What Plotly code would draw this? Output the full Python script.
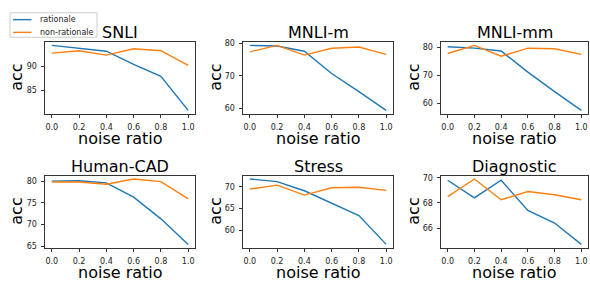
import plotly.graph_objects as go

noise = [0.0, 0.2, 0.4, 0.6, 0.8, 1.0]
x_ticks = [0.0, 0.2, 0.4, 0.6, 0.8, 1.0]
x_tick_labels = ["0.0", "0.2", "0.4", "0.6", "0.8", "1.0"]

titles = ["SNLI", "MNLI-m", "MNLI-mm", "Human-CAD", "Stress", "Diagnostic"]
series_names = ["rationale", "non-rationale"]

snli_rat = [94.3, 93.7, 93.1, 90.4, 87.9, 80.9]
snli_non = [92.7, 93.2, 92.3, 93.6, 93.2, 90.2]
mnlim_rat = [79.4, 79.2, 77.6, 70.7, 65.1, 59.3]
mnlim_non = [77.4, 79.4, 76.4, 78.5, 78.9, 76.6]
mnlimm_rat = [80.3, 79.8, 78.8, 71.2, 64.2, 57.5]
mnlimm_non = [77.9, 80.8, 76.9, 79.8, 79.6, 77.6]
hcad_rat = [80.0, 80.1, 79.6, 76.3, 71.3, 65.4]
hcad_non = [79.8, 79.8, 79.3, 80.5, 79.9, 75.9]
stress_rat = [71.8, 71.2, 69.1, 66.3, 63.4, 56.8]
stress_non = [69.5, 70.4, 68.1, 69.8, 69.9, 69.2]
diag_rat = [69.8, 68.4, 69.8, 67.4, 66.4, 64.7]
diag_non = [68.5, 69.9, 68.25, 68.9, 68.65, 68.25]

rationale = [snli_rat, mnlim_rat, mnlimm_rat, hcad_rat, stress_rat, diag_rat]
non_rationale = [snli_non, mnlim_non, mnlimm_non, hcad_non, stress_non, diag_non]

y_ticks = [[85, 90], [60, 70, 80], [60, 70, 80], [65, 70, 75, 80], [60, 65, 70], [66, 68, 70]]

W, H = 590, 281
col_px = [(45, 195), (243, 393), (441, 588)]
row_px = [(40, 113), (176.5, 250)]
ylab_x = [17, 216, 414]

BLUE = "#1f77b4"
ORANGE = "#ff7f0e"
FONT = "DejaVu Sans"


def px(x):
    return x / W


def py(y):
    return 1 - y / H


fig = go.Figure()
annotations = []
shapes = []

for i in range(6):
    r, c = divmod(i, 3)
    idx = "" if i == 0 else str(i + 1)
    xa, ya = "x" + idx, "y" + idx
    x0, x1 = col_px[c]
    top, bot = row_px[r]
    fig.add_trace(go.Scatter(x=noise, y=rationale[i], mode="lines", name=series_names[0],
                             line=dict(color=BLUE, width=1.4), xaxis=xa, yaxis=ya,
                             showlegend=False))
    fig.add_trace(go.Scatter(x=noise, y=non_rationale[i], mode="lines", name=series_names[1],
                             line=dict(color=ORANGE, width=1.4), xaxis=xa, yaxis=ya,
                             showlegend=False))
    allv = rationale[i] + non_rationale[i]
    lo, hi = min(allv), max(allv)
    pad = 0.05 * (hi - lo)
    common = dict(showline=True, linecolor="#333", linewidth=0.9, mirror=True,
                  ticks="outside", ticklen=3.5, tickwidth=0.9, tickcolor="#333",
                  showgrid=False, zeroline=False, ticklabelstandoff=2,
                  tickfont=dict(family=FONT, size=8, color="#222"))
    fig.layout["xaxis" + idx] = dict(domain=[px(x0), px(x1)], range=[-0.05, 1.05],
                                     tickvals=x_ticks, ticktext=x_tick_labels,
                                     anchor=ya, **common)
    fig.layout["yaxis" + idx] = dict(domain=[py(bot), py(top)], range=[lo - pad, hi + pad],
                                     tickvals=y_ticks[i], anchor=xa, **common)
    cx = px((x0 + x1) / 2)
    annotations.append(dict(text=titles[i], x=cx, y=py(top - 9.5), xref="paper", yref="paper",
                            xanchor="center", yanchor="middle", showarrow=False,
                            font=dict(family=FONT, size=16, color="black")))
    annotations.append(dict(text="noise ratio", x=cx, y=py(bot + 25), xref="paper", yref="paper",
                            xanchor="center", yanchor="middle", showarrow=False,
                            font=dict(family=FONT, size=16, color="black")))
    annotations.append(dict(text="acc", x=px(ylab_x[c]), y=py((top + bot) / 2), xref="paper", yref="paper",
                            xanchor="center", yanchor="middle", showarrow=False, textangle=-90,
                            font=dict(family=FONT, size=16, color="black")))

# compact legend box (matplotlib style)
shapes.append(dict(type="rect", xref="paper", yref="paper",
                   x0=px(10), x1=px(97), y0=py(35), y1=py(10),
                   line=dict(color="#cccccc", width=1), fillcolor="rgba(255,255,255,0.85)", layer="above"))
for k, (name, color) in enumerate(zip(series_names, [BLUE, ORANGE])):
    yy = 17 + 13 * k
    shapes.append(dict(type="line", xref="paper", yref="paper",
                       x0=px(13), x1=px(31.5), y0=py(yy), y1=py(yy),
                       line=dict(color=color, width=1.4), layer="above"))
    annotations.append(dict(text=name, x=px(37.5), y=py(yy), xref="paper", yref="paper",
                            xanchor="left", yanchor="middle", showarrow=False,
                            font=dict(family=FONT, size=8, color="#222")))

fig.update_layout(
    width=W, height=H, margin=dict(l=0, r=0, t=0, b=0),
    paper_bgcolor="white", plot_bgcolor="white",
    annotations=annotations, shapes=shapes, showlegend=False,
)

fig.write_html("out.html", config={"displayModeBar": False},
               post_script="document.body.style.margin='0px';")
